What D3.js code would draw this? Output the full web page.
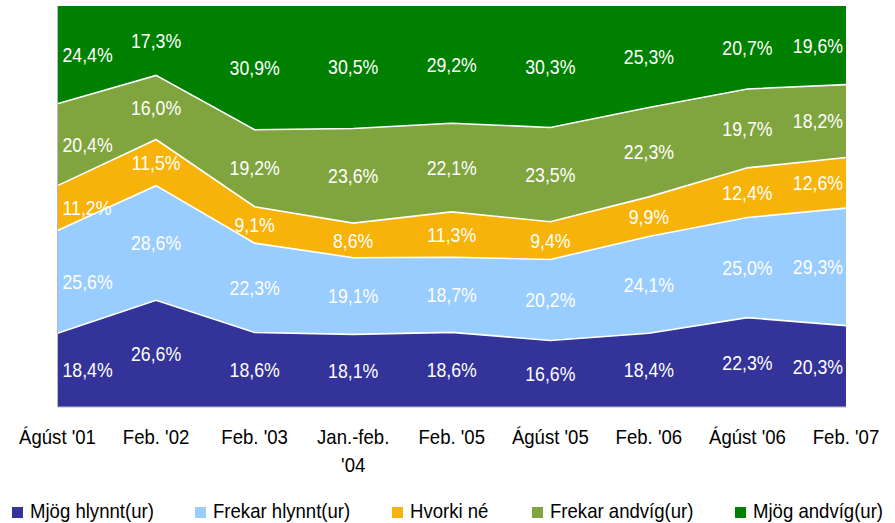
<!DOCTYPE html>
<html>
<head>
<meta charset="utf-8">
<script src="https://cdn.jsdelivr.net/npm/d3@7"></script>
<style>
  html, body { margin: 0; padding: 0; background: #fff; }
  text { font-family: "Liberation Sans", Arial, sans-serif; }
</style>
</head>
<body>
<div id="vis-container"></div>
<script>
// categories and the five answer series (percent)
var categories = ["Ágúst '01", "Feb. '02", "Feb. '03", "Jan.-feb.\n'04", "Feb. '05",
                  "Ágúst '05", "Feb. '06", "Ágúst '06", "Feb. '07"];
var seriesNames = ["Mjög hlynnt(ur)", "Frekar hlynnt(ur)", "Hvorki né", "Frekar andvíg(ur)", "Mjög andvíg(ur)"];
var mjogHlynnt   = [18.4, 26.6, 18.6, 18.1, 18.6, 16.6, 18.4, 22.3, 20.3];
var frekarHlynnt = [25.6, 28.6, 22.3, 19.1, 18.7, 20.2, 24.1, 25.0, 29.3];
var hvorki       = [11.2, 11.5,  9.1,  8.6, 11.3,  9.4,  9.9, 12.4, 12.6];
var frekarAndvig = [20.4, 16.0, 19.2, 23.6, 22.1, 23.5, 22.3, 19.7, 18.2];
var mjogAndvig   = [24.4, 17.3, 30.9, 30.5, 29.2, 30.3, 25.3, 20.7, 19.6];
var colors = ["#333399", "#99ccff", "#f8b30a", "#80a53f", "#008000"];

const width = 895;
const height = 523;
const plot = { left: 57.5, right: 846, top: 6, bottom: 407 };
const squish = 0.885; // text is drawn a bit condensed

// build rows for the stack
var allSeries = [mjogHlynnt, frekarHlynnt, hvorki, frekarAndvig, mjogAndvig];
var rows = categories.map(function (c, i) {
  var r = { cat: c };
  seriesNames.forEach(function (s, j) { r[s] = allSeries[j][i]; });
  return r;
});

var stack = d3.stack().keys(seriesNames).offset(d3.stackOffsetExpand);
var layers = stack(rows);

const xScale = d3.scalePoint().domain(d3.range(categories.length)).range([plot.left, plot.right]);
const yScale = d3.scaleLinear().domain([0, 1]).range([plot.bottom, plot.top]);

const svg = d3.select('#vis-container').append('svg')
  .attr('width', width)
  .attr('height', height);

var area = d3.area()
  .x(function (d, i) { return xScale(i); })
  .y0(function (d) { return yScale(d[0]); })
  .y1(function (d) { return yScale(d[1]); });

var topLine = d3.line()
  .x(function (d, i) { return xScale(i); })
  .y(function (d) { return yScale(d[1]); });

svg.selectAll('path.layer')
  .data(layers)
  .enter().append('path')
  .attr('class', 'layer')
  .attr('fill', function (d, i) { return colors[i]; })
  .attr('d', area);

// white separators between the layers
layers.slice(0, layers.length - 1).forEach(function (l) {
  svg.append('path')
    .datum(l)
    .attr('fill', 'none')
    .attr('stroke', '#fff')
    .attr('stroke-width', 1.6)
    .attr('d', topLine);
});

// plot border, left and bottom
svg.append('path')
  .attr('fill', 'none')
  .attr('stroke', '#b8b8c8')
  .attr('stroke-width', 1)
  .attr('d', 'M' + plot.left + ',' + plot.top + 'V' + plot.bottom + 'H' + plot.right);

// data labels
layers.forEach(function (l, j) {
  l.forEach(function (d, i) {
    var x = xScale(i);
    var y = yScale((d[0] + d[1]) / 2);
    var t = svg.append('text')
      .attr('fill', '#fff')
      .attr('font-size', 20)
      .attr('text-anchor', 'middle')
      .attr('dy', '0.36em')
      .text(allSeries[j][i].toFixed(1).replace('.', ',') + '%');
    var w = t.node().getComputedTextLength() * squish;
    if (x - w / 2 < plot.left + 5) x = plot.left + 5 + w / 2;
    if (x + w / 2 > plot.right - 3) x = plot.right - 3 - w / 2;
    t.attr('transform', 'translate(' + x + ',' + y + ') scale(' + squish + ',1)');
  });
});

// category labels
categories.forEach(function (c, i) {
  c.split('\n').forEach(function (line, k) {
    svg.append('text')
      .attr('fill', '#000')
      .attr('font-size', 21)
      .attr('text-anchor', 'middle')
      .attr('transform', 'translate(' + xScale(i) + ',' + (444 + k * 28) + ') scale(' + squish + ',1)')
      .text(line);
  });
});

// legend
var legendX = [12, 195, 392, 532, 735];
seriesNames.forEach(function (s, i) {
  svg.append('rect')
    .attr('x', legendX[i])
    .attr('y', 507)
    .attr('width', 11)
    .attr('height', 11)
    .attr('fill', colors[i]);
  svg.append('text')
    .attr('fill', '#000')
    .attr('font-size', 21)
    .attr('transform', 'translate(' + (legendX[i] + 18) + ',517.5) scale(' + squish + ',1)')
    .text(s);
});
</script>
</body>
</html>
